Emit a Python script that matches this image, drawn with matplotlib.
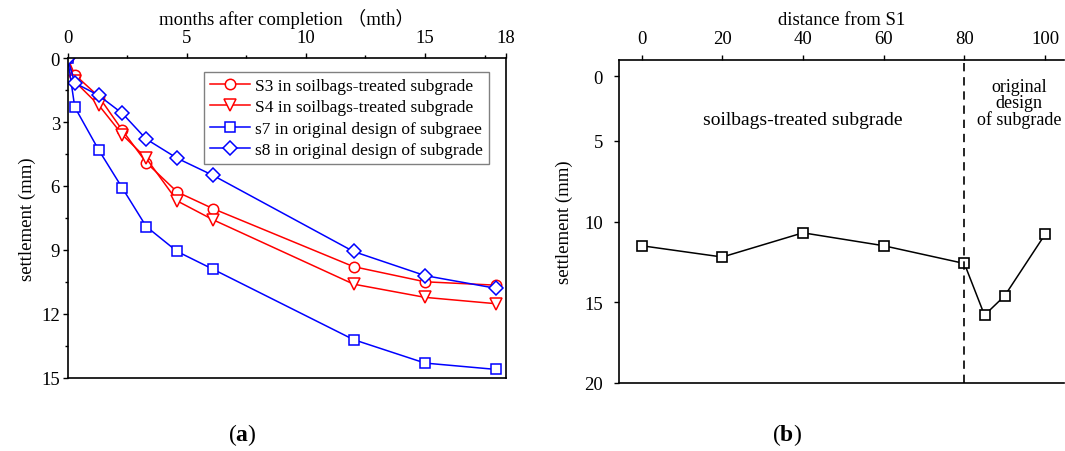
import matplotlib
matplotlib.use("Agg")
import matplotlib.pyplot as plt
from matplotlib.ticker import FixedLocator

plt.rcParams['font.family'] = ['Liberation Serif', 'Noto Sans CJK SC', 'DejaVu Sans']
plt.rcParams['mathtext.fontset'] = 'custom'
plt.rcParams['mathtext.rm'] = 'Liberation Serif'
plt.rcParams['mathtext.bf'] = 'Liberation Serif:bold'

# ---- panel (a) data ----
months = [0, 0.3, 1.3, 2.3, 3.3, 4.6, 6.1, 12, 15, 18]
s3 = [0, 0.78, 1.8, 3.39, 4.9, 6.28, 7.06, 9.78, 10.49, 10.65]
s4 = [0, 1.1, 2.2, 3.6, 4.7, 6.7, 7.58, 10.6, 11.22, 11.52]
s7 = [0, 2.3, 4.3, 6.1, 7.9, 9.07, 9.9, 13.2, 14.3, 14.6]
s8 = [0, 1.17, 1.75, 2.6, 3.8, 4.7, 5.5, 9.07, 10.2, 10.8]
labels_a = ["S3 in soilbags-treated subgrade",
            "S4 in soilbags-treated subgrade",
            "s7 in original design of subgraee",
            "s8 in original design of subgrade"]
xticks_a = [0, 5, 10, 15]
yticks_a = [0, 3, 6, 9, 12, 15]

# ---- panel (b) data ----
distance = [0, 20, 40, 60, 80, 85, 90, 100]
settle_b = [11.5, 12.2, 10.7, 11.5, 12.6, 15.8, 14.6, 10.8]
xticks_b = [0, 20, 40, 60, 80, 100]
yticks_b_labels = ['0', '5', '10', '15', '20']

W, H = 1065, 452
fig = plt.figure(figsize=(W / 100, H / 100), dpi=100)

def px_axes(x0, y0, x1, y1):
    return fig.add_axes([x0 / W, 1 - y1 / H, (x1 - x0) / W, (y1 - y0) / H])

FS = 13.5

# ---------------- panel (a) ----------------
ax = px_axes(67.6, 59, 506, 379)
red, blue = '#FF0000', '#0000FF'
ax.plot(months, s3, color=red, lw=1.1, marker='o', ms=7.5, mfc='white', mec=red, mew=1.1, label=labels_a[0])
ax.plot(months, s4, color=red, lw=1.1, marker='v', ms=8.5, mfc='white', mec=red, mew=1.1, label=labels_a[1])
ax.plot(months, s7, color=blue, lw=1.1, marker='s', ms=6.5, mfc='white', mec=blue, mew=1.1, label=labels_a[2])
ax.plot(months, s8, color=blue, lw=1.1, marker='D', ms=7, mfc='white', mec=blue, mew=1.1, label=labels_a[3])
ax.set_xlim(0, 18.4)
ax.set_ylim(15, 0)
ax.xaxis.tick_top()
ax.xaxis.set_label_position('top')
ax.set_xticks(xticks_a + [18.4])
ax.set_xticklabels([str(v) for v in xticks_a] + ['18'])
ax.xaxis.set_minor_locator(FixedLocator([2.5, 7.5, 12.5, 17.5]))
ax.set_yticks(yticks_a)
ax.set_yticklabels([str(v) for v in yticks_a])
ax.yaxis.set_minor_locator(FixedLocator([1.5, 4.5, 7.5, 10.5, 13.5]))
ax.tick_params(which='major', direction='out', length=3.5, width=1, labelsize=FS, pad=2)
ax.tick_params(which='minor', direction='out', length=2.5, width=1)
ax.tick_params(axis='x', which='both', top=True, bottom=False, pad=5)
ax.tick_params(axis='y', which='both', left=True, right=False)
for sp in ax.spines.values():
    sp.set_linewidth(1.2)
ax.set_xlabel("months after completion （mth）", fontsize=FS, labelpad=4)
ax.set_ylabel("settlement (mm)", fontsize=FS, labelpad=4)
leg = ax.legend(loc='upper right', bbox_to_anchor=(0.961, 0.957), borderaxespad=0,
                fontsize=12.5, frameon=True, fancybox=False, edgecolor='#808080',
                framealpha=1, handlelength=2.3, handletextpad=0.3, labelspacing=0.3,
                borderpad=0.35)
leg.get_frame().set_linewidth(1.0)

# ---------------- panel (b) ----------------
bx = px_axes(619, 61, 1064, 384)
bx.plot(distance, settle_b, color='black', lw=1.1, marker='s', ms=7, mfc='white', mec='black', mew=1.2)
bx.axvline(80, color='black', lw=1.2, dashes=(5, 3.5))
bx.set_xlim(-5.6, 104.7)
bx.set_ylim(20, 0)
bx.xaxis.tick_top()
bx.xaxis.set_label_position('top')
bx.set_xticks(xticks_b)
bx.set_xticklabels([str(v) for v in xticks_b])
bx.set_yticks([1.0, 5, 10, 15, 20])
bx.set_yticklabels(yticks_b_labels)
bx.tick_params(direction='out', length=3.5, width=1, labelsize=FS, pad=6)
bx.tick_params(axis='y', pad=8)
bx.spines['right'].set_visible(False)
for sp in bx.spines.values():
    sp.set_linewidth(1.2)
bx.set_xlabel("distance from S1", fontsize=FS, labelpad=4)
bx.set_ylabel("settlement (mm)", fontsize=FS, labelpad=8)
bx.text(40, 3.7, "soilbags-treated subgrade", fontsize=14, ha='center', va='center')
bx.text(93.5, 2.65, "original\ndesign\nof subgrade", fontsize=13, ha='center', va='center',
        linespacing=0.95)

fig.text(242 / W, 1 - 435 / H, r"($\mathbf{a}$)", fontsize=17, ha='center', va='center')
fig.text(787 / W, 1 - 435 / H, r"($\mathbf{b}$)", fontsize=17, ha='center', va='center')

fig.savefig("out.png", dpi=100)
